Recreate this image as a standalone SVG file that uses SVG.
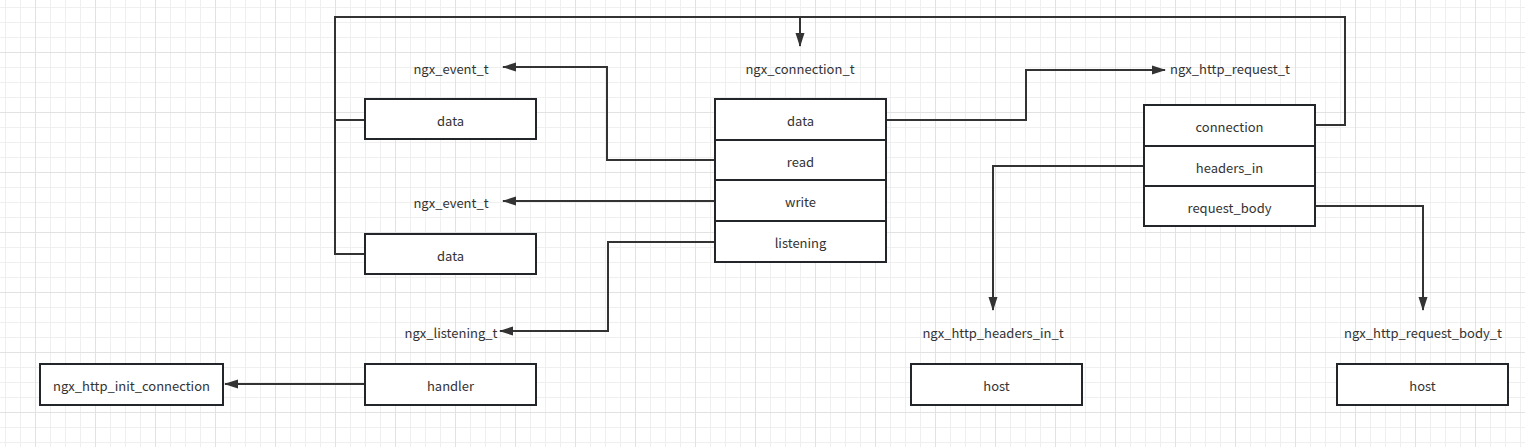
<svg xmlns="http://www.w3.org/2000/svg" width="1525" height="447" viewBox="0 0 1525 447">
<style>
.box{fill:#fff;stroke:#22262b;stroke-width:2}
.sep{stroke:#22262b;stroke-width:2}
.t{font-family:"Noto Sans CJK SC","Source Han Sans SC","Noto Sans",sans-serif;font-size:13px;fill:#333;text-anchor:middle;dominant-baseline:central}
.c{fill:none;stroke:#333;stroke-width:2}
</style>
<defs>
<pattern id="grid" width="60" height="60" x="35" y="52" patternUnits="userSpaceOnUse">
<rect width="60" height="60" fill="#fff"/>
<g fill="#efefef">
<rect x="15" y="0" width="1" height="60"/><rect x="30" y="0" width="1" height="60"/><rect x="45" y="0" width="1" height="60"/>
<rect x="0" y="15" width="60" height="1"/><rect x="0" y="30" width="60" height="1"/><rect x="0" y="45" width="60" height="1"/>
</g>
<g fill="#e2e2e2">
<rect x="0" y="0" width="1" height="60"/><rect x="0" y="0" width="60" height="1"/>
</g>
</pattern>
<marker id="arr" markerWidth="14" markerHeight="10" refX="13" refY="5" orient="auto" markerUnits="userSpaceOnUse">
<path d="M0,0.5 L14,5 L0,9.5 Z" fill="#333"/>
</marker>
</defs>
<rect width="1525" height="447" fill="url(#grid)"/>

<g id="connectors">
<path class="c" d="M1315,125 H1345 V17 H800 V46" marker-end="url(#arr)"/>
<path class="c" d="M365,120 H335 V17 H800"/>
<path class="c" d="M365,254 H335 V120"/>
<path class="c" d="M715,160 H607 V67 H503" marker-end="url(#arr)"/>
<path class="c" d="M715,201 H503" marker-end="url(#arr)"/>
<path class="c" d="M715,242 H608 V331 H500" marker-end="url(#arr)"/>
<path class="c" d="M886,120 H1026 V70 H1165" marker-end="url(#arr)"/>
<path class="c" d="M1144,166 H993 V310" marker-end="url(#arr)"/>
<path class="c" d="M1315,206 H1423 V310" marker-end="url(#arr)"/>
<path class="c" d="M365,384 H225" marker-end="url(#arr)"/>
</g>

<g id="label-event1"><text class="t" x="451" y="68">ngx_event_t</text></g>
<g id="label-connection"><text class="t" x="800" y="68">ngx_connection_t</text></g>
<g id="label-request"><text class="t" x="1230" y="68">ngx_http_request_t</text></g>
<g id="label-event2"><text class="t" x="451" y="202">ngx_event_t</text></g>
<g id="label-listening"><text class="t" x="451" y="332">ngx_listening_t</text></g>
<g id="label-headers"><text class="t" x="993" y="332">ngx_http_headers_in_t</text></g>
<g id="label-body"><text class="t" x="1423" y="332">ngx_http_request_body_t</text></g>

<g id="event1-data">
<rect class="box" x="365" y="99" width="171" height="40"/>
<text class="t" x="450.5" y="120">data</text>
</g>
<g id="event2-data">
<rect class="box" x="365" y="234" width="171" height="40"/>
<text class="t" x="450.5" y="255">data</text>
</g>
<g id="connection">
<rect class="box" x="715" y="99" width="171" height="163"/>
<line class="sep" x1="715" y1="140" x2="886" y2="140"/>
<line class="sep" x1="715" y1="180" x2="886" y2="180"/>
<line class="sep" x1="715" y1="221" x2="886" y2="221"/>
<text class="t" x="800.5" y="120">data</text>
<text class="t" x="800.5" y="161">read</text>
<text class="t" x="800.5" y="201">write</text>
<text class="t" x="800.5" y="242">listening</text>
</g>
<g id="request">
<rect class="box" x="1144" y="105" width="171" height="121"/>
<line class="sep" x1="1144" y1="146" x2="1315" y2="146"/>
<line class="sep" x1="1144" y1="186" x2="1315" y2="186"/>
<text class="t" x="1229.5" y="126">connection</text>
<text class="t" x="1229.5" y="167">headers_in</text>
<text class="t" x="1229.5" y="207">request_body</text>
</g>
<g id="init-connection">
<rect class="box" x="40" y="364" width="183" height="41"/>
<text class="t" x="131.5" y="385">ngx_http_init_connection</text>
</g>
<g id="handler">
<rect class="box" x="365" y="364" width="171" height="41"/>
<text class="t" x="450.5" y="385">handler</text>
</g>
<g id="headers-host">
<rect class="box" x="911" y="364" width="171" height="41"/>
<text class="t" x="996.5" y="385">host</text>
</g>
<g id="body-host">
<rect class="box" x="1337" y="364" width="171" height="41"/>
<text class="t" x="1422.5" y="385">host</text>
</g>
</svg>
